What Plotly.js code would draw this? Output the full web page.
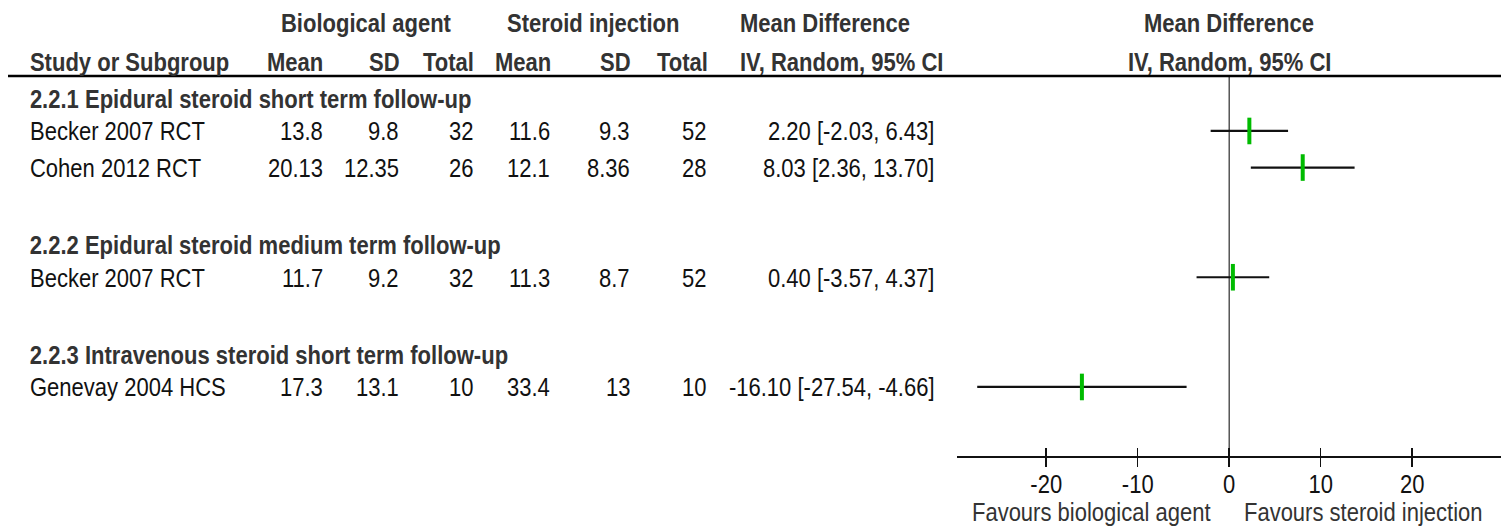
<!DOCTYPE html>
<html>
<head>
<meta charset="utf-8">
<script src="https://cdn.plot.ly/plotly-3.0.1.min.js"></script>
<style>
html,body{margin:0;padding:0;background:#fff;}
#chart{width:1501px;height:526px;}
#chart text.annotation-text{transform-box:fill-box;transform-origin:center;transform:scaleY(1.2);}
#chart g.xaxislayer-above g.xtick{transform-box:fill-box;transform-origin:center;transform:scaleY(1.2);}
</style>
</head>
<body>
<div id="chart"></div>
<script>
// ---------------- data ----------------
const groups = [
  '2.2.1 Epidural steroid short term follow-up',
  '2.2.2 Epidural steroid medium term follow-up',
  '2.2.3 Intravenous steroid short term follow-up'
];
const studies = ['Becker 2007 RCT', 'Cohen 2012 RCT', 'Becker 2007 RCT', 'Genevay 2004 HCS'];
const studyGroup = [0, 0, 1, 2];
const bioMean = [13.8, 20.13, 11.7, 17.3];
const bioSD = [9.8, 12.35, 9.2, 13.1];
const bioTotal = [32, 26, 32, 10];
const sterMean = [11.6, 12.1, 11.3, 33.4];
const sterSD = [9.3, 8.36, 8.7, 13];
const sterTotal = [52, 28, 52, 10];
const md = [2.20, 8.03, 0.40, -16.10];
const ciLow = [-2.03, 2.36, -3.57, -27.54];
const ciHigh = [6.43, 13.70, 4.37, -4.66];
const tickVals = [-20, -10, 0, 10, 20];
const favourLeft = 'Favours biological agent';
const favourRight = 'Favours steroid injection';

// ---------------- font selection ----------------
function hasFont(name){
  const c = document.createElement('canvas').getContext('2d');
  const s = 'Becker 2007 RCTmmwwiiQQ';
  c.font = '40px monospace'; const w1 = c.measureText(s).width;
  c.font = '40px "' + name + '", monospace'; const w2 = c.measureText(s).width;
  return Math.abs(w1 - w2) > 0.5;
}
let family = 'Liberation Sans';
if (hasFont('Liberation Sans Narrow')) family = 'Liberation Sans Narrow';
else if (hasFont('Arial Narrow')) family = 'Arial Narrow';
let fs;
{
  const c = document.createElement('canvas').getContext('2d');
  c.font = '100px "' + family + '"';
  const w = c.measureText('Becker 2007 RCT').width;
  fs = Math.max(14, Math.min(30, 175 / (w / 100)));
}
const FONT = family + ', Liberation Sans, Arial, sans-serif';

// ---------------- geometry ----------------
const W = 1501, H = 526;
const rowTop = 94.4, rowStep = 36.57;       // pixel of row 0, pixel per row
const yRange = [(H - rowTop) / rowStep, -rowTop / rowStep];
const pxToRow = p => (p - rowTop) / rowStep;
const px = p => p / W;

// row layout
const studyRow = [], groupRow = [];
let r = 0;
groups.forEach((g, gi) => {
  groupRow.push(r); r++;
  studies.forEach((s, si) => { if (studyGroup[si] === gi) { studyRow.push(r); r++; } });
  r++;
});

const ann = [];
const txt = (text, xp, y, anchor, opts) => {
  opts = opts || {};
  ann.push({
    text: text, xref: 'paper', yref: 'y', x: px(xp), y: y,
    xanchor: anchor, yanchor: 'middle', showarrow: false,
    font: {family: FONT, size: fs, color: opts.color || '#111'}
  });
};
const B = s => '<b>' + s + '</b>';
const HC = '#333';

// headers
const h1 = pxToRow(22), h2 = pxToRow(61);
txt(B('Biological agent'), 366, h1, 'center', {color: HC});
txt(B('Steroid injection'), 593, h1, 'center', {color: HC});
txt(B('Mean Difference'), 738, h1, 'left', {color: HC});
txt(B('Study or Subgroup'), 28, h2, 'left', {color: HC});
txt(B('Mean'), 325, h2, 'right', {color: HC});
txt(B('SD'), 402, h2, 'right', {color: HC});
txt(B('Total'), 476, h2, 'right', {color: HC});
txt(B('Mean'), 553, h2, 'right', {color: HC});
txt(B('SD'), 633, h2, 'right', {color: HC});
txt(B('Total'), 710, h2, 'right', {color: HC});
txt(B('IV, Random, 95% CI'), 738, h2, 'left', {color: HC});
ann.push({text: B('Mean Difference'), xref: 'x', yref: 'y', x: 0, y: h1, xanchor: 'center', yanchor: 'middle',
  showarrow: false, font: {family: FONT, size: fs, color: HC}});
ann.push({text: B('IV, Random, 95% CI'), xref: 'x', yref: 'y', x: 0, y: h2, xanchor: 'center', yanchor: 'middle',
  showarrow: false, font: {family: FONT, size: fs, color: HC}});

// group headers
groups.forEach((g, gi) => txt(B(g), 28, groupRow[gi] + 0.1, 'left', {color: HC}));

// study rows
studies.forEach((s, i) => {
  const y = studyRow[i];
  txt(s, 28, y, 'left');
  txt(String(bioMean[i]), 325, y, 'right');
  txt(String(bioSD[i]), 401, y, 'right');
  txt(String(bioTotal[i]), 475, y, 'right');
  txt(String(sterMean[i]), 552, y, 'right');
  txt(String(sterSD[i]), 632, y, 'right');
  txt(String(sterTotal[i]), 708, y, 'right');
  txt(md[i].toFixed(2) + ' [' + ciLow[i].toFixed(2) + ', ' + ciHigh[i].toFixed(2) + ']', 936, y, 'right');
});

// favours labels
const favY = pxToRow(511);
ann.push({text: favourLeft, xref: 'x', yref: 'y', x: -1.9, y: favY, xanchor: 'right', yanchor: 'middle',
  showarrow: false, font: {family: FONT, size: fs, color: HC}});
ann.push({text: favourRight, xref: 'x', yref: 'y', x: 1.4, y: favY, xanchor: 'left', yanchor: 'middle',
  showarrow: false, font: {family: FONT, size: fs, color: HC}});

const axisPos = 1 - 457 / H;

const traces = [
  {
    type: 'scatter', mode: 'markers', xaxis: 'x', yaxis: 'y',
    x: md, y: studyRow,
    error_x: {
      type: 'data', symmetric: false,
      array: md.map((m, i) => ciHigh[i] - m),
      arrayminus: md.map((m, i) => m - ciLow[i]),
      color: '#111', thickness: 2.2, width: 0
    },
    marker: {symbol: 'line-ns', size: 19, color: '#00bb00', line: {color: '#00bb00', width: 4}},
    hoverinfo: 'skip', showlegend: false, cliponaxis: false
  },
  {type: 'scatter', mode: 'markers', xaxis: 'x2', yaxis: 'y', x: [], y: [], showlegend: false, hoverinfo: 'skip'}
];

const xCommon = {
  domain: [957 / W, 1], range: [-29.75, 29.7], anchor: 'free', position: axisPos,
  showgrid: false, zeroline: false, fixedrange: true
};

const layout = {
  width: W, height: H,
  margin: {l: 0, r: 0, t: 0, b: 0, pad: 0},
  paper_bgcolor: '#fff', plot_bgcolor: 'rgba(0,0,0,0)',
  showlegend: false,
  xaxis: Object.assign({}, xCommon, {
    showline: true, linecolor: '#111', linewidth: 2,
    ticks: 'outside', ticklen: 9, tickwidth: 1.5, tickcolor: '#111',
    tickmode: 'array', tickvals: tickVals, ticktext: tickVals.map(String),
    ticklabelstandoff: -2,
    tickfont: {family: FONT, size: fs, color: '#111'}
  }),
  xaxis2: Object.assign({}, xCommon, {
    overlaying: 'x', showline: false,
    ticks: 'inside', ticklen: 9, tickwidth: 1.5, tickcolor: '#111',
    tickmode: 'array', tickvals: tickVals, showticklabels: false
  }),
  yaxis: {
    domain: [0, 1], range: yRange, anchor: 'x', visible: false,
    showgrid: false, zeroline: false, fixedrange: true
  },
  shapes: [
    {type: 'line', xref: 'paper', yref: 'paper', x0: px(8), x1: 1, y0: 1 - 76 / H, y1: 1 - 76 / H,
      line: {color: '#000', width: 2.5}},
    {type: 'line', xref: 'x', yref: 'paper', x0: 0, x1: 0, y0: 1 - 77 / H, y1: axisPos,
      line: {color: '#555', width: 1.5}, layer: 'below'}
  ],
  annotations: ann
};

Plotly.newPlot('chart', traces, layout, {displayModeBar: false, staticPlot: true});
</script>
</body>
</html>
